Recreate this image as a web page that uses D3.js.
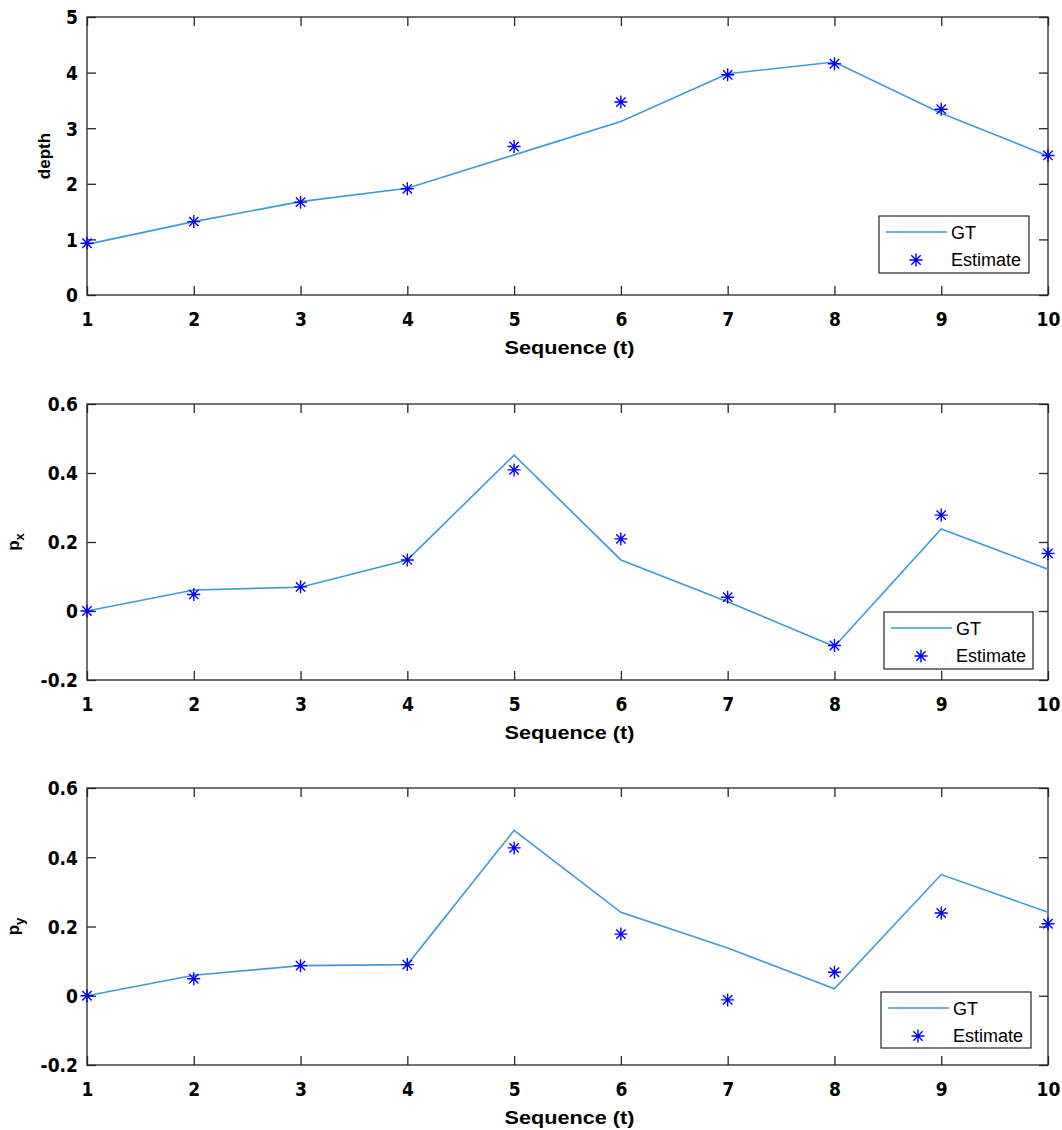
<!DOCTYPE html>
<html>
<head>
<meta charset="utf-8">
<script src="https://cdn.jsdelivr.net/npm/d3@7"></script>
<style>
  html, body { margin: 0; padding: 0; background: #fff; }
  svg { display: block; }
</style>
</head>
<body>
<svg id="chart" width="1062" height="1130"></svg>
<script>
// ---- data ----
const seq = [1, 2, 3, 4, 5, 6, 7, 8, 9, 10];
const xTicks = [1, 2, 3, 4, 5, 6, 7, 8, 9, 10];

const depthGT  = [0.91, 1.32, 1.68, 1.92, 2.52, 3.12, 3.98, 4.19, 3.27, 2.50];
const depthEst = [0.93, 1.32, 1.67, 1.91, 2.67, 3.47, 3.96, 4.16, 3.34, 2.51];
const depthTicks = [0, 1, 2, 3, 4, 5];

const pxGT  = [0, 0.061, 0.069, 0.148, 0.452, 0.148, 0.027, -0.103, 0.238, 0.121];
const pxEst = [0, 0.048, 0.070, 0.148, 0.409, 0.209, 0.040, -0.100, 0.278, 0.167];

const pyGT  = [0, 0.059, 0.087, 0.090, 0.478, 0.241, 0.138, 0.020, 0.350, 0.241];
const pyEst = [0, 0.049, 0.087, 0.090, 0.427, 0.178, -0.012, 0.068, 0.239, 0.208];
const pTicks = [-0.2, 0, 0.2, 0.4, 0.6];
const pTickLabels = ["-0.2", "0", "0.2", "0.4", "0.6"];

const legendLabels = ["GT", "Estimate"];
const xLabel = "Sequence (t)";

// ---- drawing ----
const svg = d3.select("#chart");
const tickFont = "'DejaVu Sans Condensed', 'Liberation Sans Narrow', sans-serif";
const lineColor = "#3f9bd6";
const starColor = "#0000ff";
const frameColor = "#262626";

function starPath(r) {
  const d = r * 0.72;
  return `M${-r},0L${r},0M0,${-r}L0,${r}M${-d},${-d}L${d},${d}M${-d},${d}L${d},${-d}`;
}

function panel(cfg) {
  const { top, bottom, gt, est, yDomain, yTicks, yTickLabels, yLabel, legend } = cfg;
  const left = 87, right = 1048;
  const x = d3.scaleLinear().domain([1, 10]).range([left, right]);
  const y = d3.scaleLinear().domain(yDomain).range([bottom, top]);
  const g = svg.append("g");
  const tl = 9;

  g.append("rect").attr("x", left).attr("y", top)
    .attr("width", right - left).attr("height", bottom - top)
    .attr("fill", "none").attr("stroke", frameColor).attr("stroke-width", 1.3);

  const yFmt = (d, i) => yTickLabels ? yTickLabels[i] : String(d);
  const axB = d3.axisBottom(x).tickValues(xTicks).tickSizeInner(-tl).tickSizeOuter(0).tickPadding(18);
  const axT = d3.axisTop(x).tickValues(xTicks).tickSizeInner(-tl).tickSizeOuter(0).tickFormat("");
  const axL = d3.axisLeft(y).tickValues(yTicks).tickSizeInner(-tl).tickSizeOuter(0).tickPadding(9).tickFormat(yFmt);
  const axR = d3.axisRight(y).tickValues(yTicks).tickSizeInner(-tl).tickSizeOuter(0).tickFormat("");

  const gb = g.append("g").attr("transform", `translate(0,${bottom})`).call(axB);
  const gt_ = g.append("g").attr("transform", `translate(0,${top})`).call(axT);
  const gl = g.append("g").attr("transform", `translate(${left},0)`).call(axL);
  const gr = g.append("g").attr("transform", `translate(${right},0)`).call(axR);
  [gb, gt_, gl, gr].forEach(a => {
    a.select(".domain").remove();
    a.selectAll(".tick line").attr("stroke", frameColor).attr("stroke-width", 1.3);
    a.selectAll(".tick text").attr("fill", "#000")
      .style("font-family", tickFont).style("font-weight", "bold").style("font-size", "19px");
  });
  gb.selectAll(".tick text").attr("dy", "0.71em");
  gl.selectAll(".tick text").attr("dy", "0.36em");

  g.append("text").attr("x", (left + right) / 2 + 2).attr("y", bottom + 59)
    .attr("text-anchor", "middle").attr("fill", "#000")
    .style("font-family", "'Liberation Sans', Arial, sans-serif").style("font-weight", "bold")
    .style("font-size", "18px").attr("textLength", 130).attr("lengthAdjust", "spacingAndGlyphs")
    .text(xLabel);

  const yl = g.append("text")
    .attr("transform", `translate(${yLabel.x},${(top + bottom) / 2}) rotate(-90)`)
    .attr("text-anchor", "middle").attr("fill", "#000")
    .style("font-family", "'Liberation Sans', Arial, sans-serif").style("font-weight", "bold")
    .style("font-size", "17px");
  yl.append("tspan").text(yLabel.main);
  if (yLabel.sub) {
    yl.append("tspan").attr("dy", 5).style("font-size", "13px").text(yLabel.sub);
  }

  const line = d3.line().x((d, i) => x(seq[i])).y(d => y(d));
  g.append("path").datum(gt).attr("d", line)
    .attr("fill", "none").attr("stroke", lineColor).attr("stroke-width", 1.6);

  g.selectAll(".star").data(est).enter().append("path")
    .attr("transform", (d, i) => `translate(${x(seq[i])},${y(d)})`)
    .attr("d", starPath(6.5))
    .attr("stroke", starColor).attr("stroke-width", 1.4).attr("fill", "none");

  const L = legend;
  const lg = g.append("g");
  lg.append("rect").attr("x", L.x).attr("y", L.y).attr("width", L.w).attr("height", L.h)
    .attr("fill", "#fff").attr("stroke", frameColor).attr("stroke-width", 1.2);
  lg.append("line").attr("x1", L.x + 7).attr("x2", L.x + 68)
    .attr("y1", L.y + 16).attr("y2", L.y + 16)
    .attr("stroke", lineColor).attr("stroke-width", 1.6);
  lg.append("path").attr("transform", `translate(${L.x + 37},${L.y + 44})`)
    .attr("d", starPath(6.5)).attr("stroke", starColor).attr("stroke-width", 1.4).attr("fill", "none");
  lg.selectAll(".lt").data(legendLabels).enter().append("text")
    .attr("x", L.x + 72).attr("y", (d, i) => L.y + 23 + i * 27)
    .attr("fill", "#000")
    .style("font-family", "'Liberation Sans', Arial, sans-serif").style("font-size", "18px")
    .text(d => d);
}

panel({
  top: 17, bottom: 295, gt: depthGT, est: depthEst,
  yDomain: [0, 5], yTicks: depthTicks, yTickLabels: null,
  yLabel: { x: 50, main: "depth" },
  legend: { x: 879, y: 216, w: 150, h: 57 }
});
panel({
  top: 404, bottom: 680, gt: pxGT, est: pxEst,
  yDomain: [-0.2, 0.6], yTicks: pTicks, yTickLabels: pTickLabels,
  yLabel: { x: 19, main: "p", sub: "x" },
  legend: { x: 884, y: 612, w: 149, h: 57 }
});
panel({
  top: 788, bottom: 1065, gt: pyGT, est: pyEst,
  yDomain: [-0.2, 0.6], yTicks: pTicks, yTickLabels: pTickLabels,
  yLabel: { x: 19, main: "p", sub: "y" },
  legend: { x: 881, y: 992, w: 150, h: 56 }
});
</script>
</body>
</html>
